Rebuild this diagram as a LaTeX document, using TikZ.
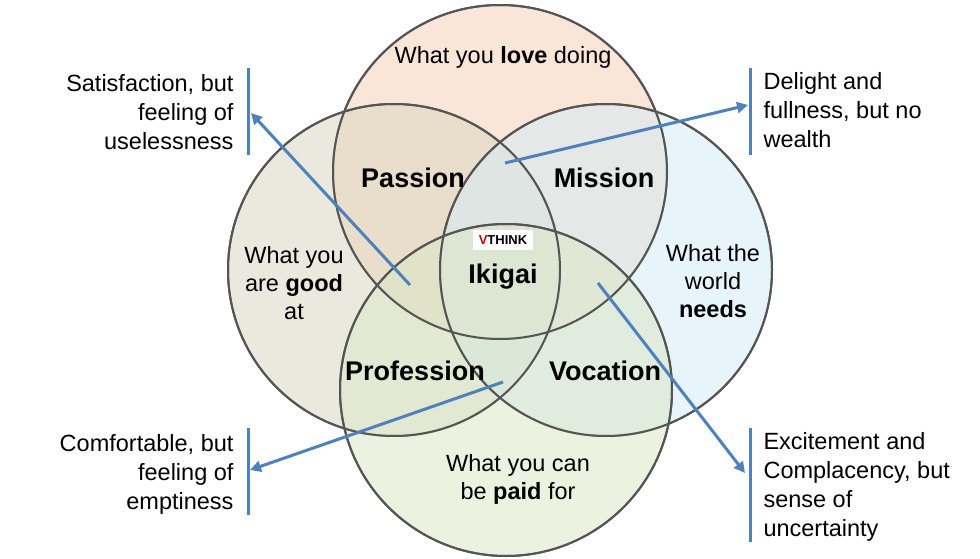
\documentclass[tikz,border=0pt]{standalone}
\usepackage{fontspec}
\setmainfont{Liberation Sans}
\usetikzlibrary{arrows.meta}
\definecolor{ringc}{HTML}{555555}
\definecolor{arrc}{HTML}{4F81BD}
\definecolor{vred}{HTML}{C00000}
\definecolor{ctop}{HTML}{F6D2B8}
\definecolor{cleft}{HTML}{DCD8C2}
\definecolor{cright}{HTML}{D5EBF5}
\definecolor{cbot}{HTML}{DCE8C8}
\begin{document}
\begin{tikzpicture}[x=1pt,y=-1pt,
  ring/.style={draw=ringc,line width=2pt,fill opacity=0.55},
  arr/.style={draw=arrc,line width=3pt,-{Triangle[length=11pt,width=11pt]}},
  bar/.style={draw=arrc,line width=3pt},
  txt/.style={font=\fontsize{23.5}{28}\selectfont,align=center},
  big/.style={font=\fontsize{27}{31}\selectfont\bfseries},
  side/.style={font=\fontsize{23.5}{29}\selectfont}]
\useasboundingbox (0,0) rectangle (980,559);
\fill[white] (0,0) rectangle (980,559);
\fill[ring,fill=ctop] (500,172) circle (167);
\fill[ring,fill=cleft] (394,270) circle (166);
\fill[ring,fill=cright] (606,270) circle (166);
\fill[ring,fill=cbot] (506,390) circle (166);
\draw[ring] (500,172) circle (167);
\draw[ring] (394,270) circle (166);
\draw[ring] (606,270) circle (166);
\draw[ring] (506,390) circle (166);
\node[txt] (love) at (503,57) {What you \textbf{love} doing};
\node[txt] (good) at (294,283) {What you\\are \textbf{good}\\at};
\node[txt] (needs) at (713,281) {What the\\world\\\textbf{needs}};
\node[txt] (paid) at (518,479) {What you can\\be \textbf{paid} for};
\node[big] (pas) at (413,178) {Passion};
\node[big] (mis) at (604,178) {Mission};
\node[big] (pro) at (415,371) {Profession};
\node[big] (voc) at (605,371) {Vocation};
\node[big] (iki) at (503,277) {Ikigai};
\node[fill=white,inner xsep=6pt,inner ysep=6pt,font=\fontsize{13}{15}\selectfont\bfseries] (logo) at (503,240) {\textcolor{vred}{V}THINK};
\node[side,anchor=east,align=right] (t1) at (237,112) {Satisfaction, but\\feeling of\\uselessness};
\node[side,anchor=west,align=left] (t2) at (760,110) {Delight and\\fullness, but no\\wealth};
\node[side,anchor=east,align=right] (t3) at (237,474) {Comfortable, but\\feeling of\\emptiness};
\node[side,anchor=west,align=left] (t4) at (760,487) {Excitement and\\Complacency, but\\sense of\\uncertainty};
\coordinate (b1a) at (248,68); \coordinate (b1b) at (248,155);
\coordinate (b2a) at (750,68); \coordinate (b2b) at (750,155);
\coordinate (b3a) at (248,428); \coordinate (b3b) at (248,515);
\coordinate (b4a) at (750,428); \coordinate (b4b) at (750,542);
\draw[bar] (b1a)--(b1b); \draw[bar] (b2a)--(b2b);
\draw[bar] (b3a)--(b3b); \draw[bar] (b4a)--(b4b);
\coordinate (s1) at (410,285); \coordinate (e1) at (251,113);
\coordinate (s2) at (505,163); \coordinate (e2) at (748,105);
\coordinate (s3) at (503,382); \coordinate (e3) at (250,470);
\coordinate (s4) at (598,283); \coordinate (e4) at (745,473);
\draw[arr] (s1)--(e1); \draw[arr] (s2)--(e2);
\draw[arr] (s3)--(e3); \draw[arr] (s4)--(e4);
\end{tikzpicture}
\end{document}
